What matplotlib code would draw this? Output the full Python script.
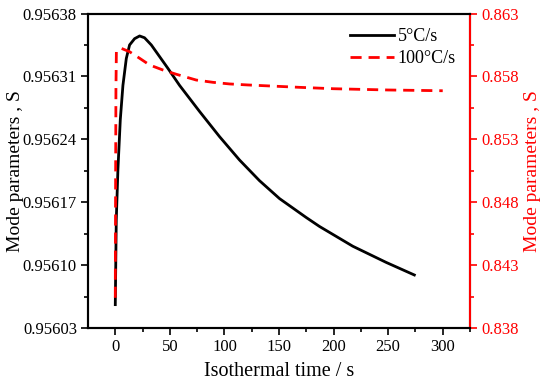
import matplotlib
matplotlib.use("Agg")
import matplotlib.pyplot as plt
import numpy as np
from matplotlib.ticker import FixedLocator, FormatStrFormatter

plt.rcParams['font.family'] = ['Liberation Serif', 'DejaVu Serif']
plt.rcParams['mathtext.fontset'] = 'stix'

# Data
t_slow = [0, 0.9, 2.4, 4.6, 7.0, 10.1, 13.1, 17.7, 22.3, 26.8, 33.0, 40.6, 48.2, 58.9, 77.2,
          95.5, 113.8, 132.1, 150.5, 174.9, 187.1, 217.6, 248.2, 274]
s_slow = [0.956056, 0.956150, 0.956206, 0.956262, 0.956300, 0.956330, 0.956345, 0.956352, 0.956355,
          0.956353, 0.956345, 0.956332, 0.956319, 0.956300, 0.956271, 0.956243, 0.956217, 0.956194,
          0.956174, 0.956153, 0.956143, 0.956121, 0.956103, 0.956089]
t_fast = [0, 0.3, 0.6, 1, 3, 5.5, 13.1, 22.3, 31.4, 43.6, 55.9, 74.2, 89.4, 104.7, 121.4, 169, 200, 250, 300]
s_fast = [0.84040, 0.8500, 0.8570, 0.8600, 0.86015, 0.86023, 0.85996, 0.85944, 0.85891, 0.85851,
          0.85817, 0.85771, 0.85753, 0.85740, 0.85732, 0.85713, 0.85702, 0.85692, 0.85686]

labels = ['5\u00b0C/s', '100\u00b0C/s']
x_ticks = [0, 50, 100, 150, 200, 250, 300]
left_ticks = [0.95603, 0.95610, 0.95617, 0.95624, 0.95631, 0.95638]
right_ticks = [0.838, 0.843, 0.848, 0.853, 0.858, 0.863]

fig = plt.figure(figsize=(5.5, 3.86), dpi=100)
ax = fig.add_axes([88/550, 1-328/386, (470-88)/550, (328-13.5)/386])
ax2 = ax.twinx()

l1, = ax.plot(t_slow, s_slow, color='black', lw=2, label=labels[0])
l2, = ax2.plot(t_fast, s_fast, color='red', lw=2, ls=(0, (4, 2.5)), label=labels[1])

ax.set_xlim(-25, 325)
ax.set_ylim(left_ticks[0], left_ticks[-1])
ax2.set_ylim(right_ticks[0], right_ticks[-1])

ax.xaxis.set_major_locator(FixedLocator(x_ticks))
ax.xaxis.set_minor_locator(FixedLocator([x + 25 for x in x_ticks]))
ax.yaxis.set_major_locator(FixedLocator(left_ticks))
ax.yaxis.set_minor_locator(FixedLocator([(a + b) / 2 for a, b in zip(left_ticks[:-1], left_ticks[1:])]))
ax.yaxis.set_major_formatter(FormatStrFormatter('%.5f'))
ax2.yaxis.set_major_locator(FixedLocator(right_ticks))
ax2.yaxis.set_minor_locator(FixedLocator([(a + b) / 2 for a, b in zip(right_ticks[:-1], right_ticks[1:])]))
ax2.yaxis.set_major_formatter(FormatStrFormatter('%.3f'))

fs = 12
ax.tick_params(axis='both', which='major', direction='out', length=5, width=1.2, labelsize=fs, pad=3)
ax.tick_params(axis='both', which='minor', direction='out', length=3, width=1.2)
ax.tick_params(axis='x', which='both', top=False)
ax2.tick_params(axis='y', which='major', direction='out', length=5, width=1.2, labelsize=fs,
                colors='red', labelcolor='red', pad=3)
ax2.tick_params(axis='y', which='minor', direction='out', length=3, width=1.2, colors='red')

for sp in ax.spines.values():
    sp.set_linewidth(1.5)
for sp in ax2.spines.values():
    sp.set_linewidth(1.5)
ax2.spines['right'].set_color('red')

ax.set_xlabel('Isothermal time / s', fontsize=14.5, labelpad=5)
ax.set_ylabel('Mode parameters , S', fontsize=14)
ax2.set_ylabel('Mode parameters , S', fontsize=14, color='red', labelpad=4)
ax.yaxis.set_label_coords((24 - 88) / 382, 0.5)

leg = ax.legend(handles=[l1, l2], loc='upper right', frameon=False, fontsize=13,
                handlelength=2.4, handletextpad=0.2, labelspacing=0.3, borderaxespad=0.4)

fig.savefig('out.png', dpi=100)
